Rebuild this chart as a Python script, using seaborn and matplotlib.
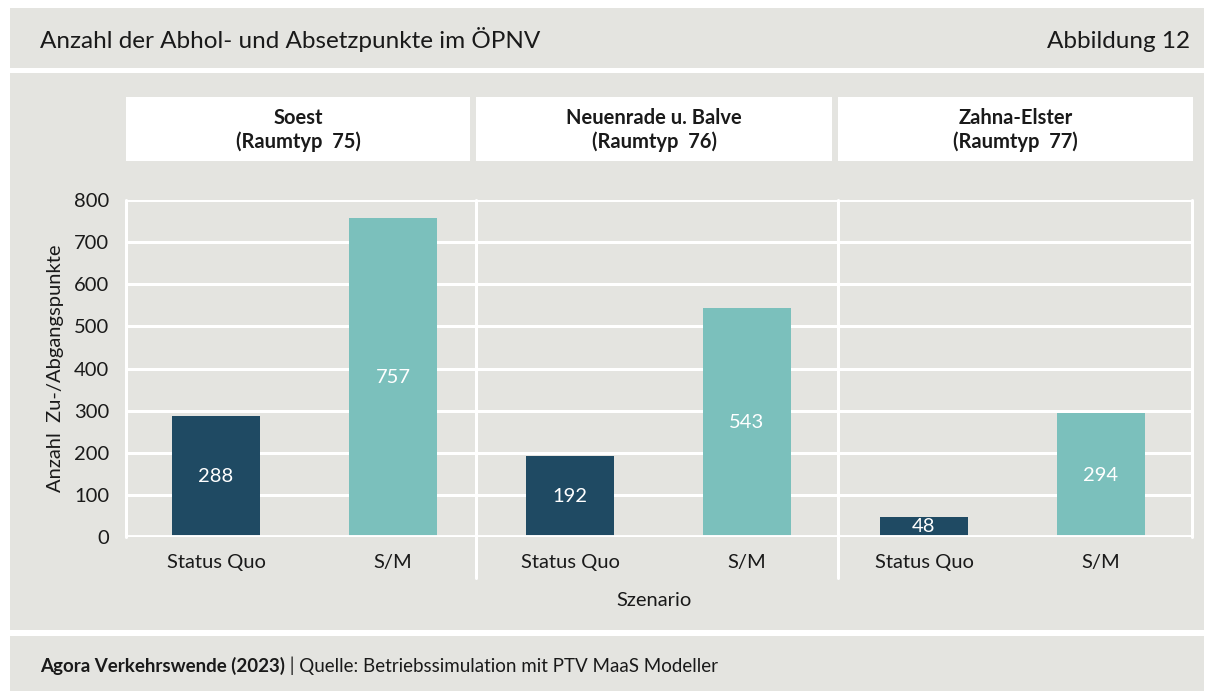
import matplotlib
matplotlib.use("Agg")
import matplotlib.pyplot as plt
import seaborn as sns
import pandas as pd
from matplotlib.patches import Rectangle
from matplotlib.lines import Line2D

regions = ["Soest\n(Raumtyp  75)", "Neuenrade u. Balve\n(Raumtyp  76)", "Zahna-Elster\n(Raumtyp  77)"]
scenarios = ["Status Quo", "S/M"]
status_quo = [288, 192, 48]
sm = [757, 543, 294]
yticks = [0, 100, 200, 300, 400, 500, 600, 700, 800]

title = "Anzahl der Abhol- und Absetzpunkte im ÖPNV"
fig_label = "Abbildung 12"
ylabel = "Anzahl  Zu-/Abgangspunkte"
xlabel = "Szenario"
source_bold = "Agora Verkehrswende (2023)"
source_rest = " | Quelle: Betriebssimulation mit PTV MaaS Modeller"

BG = "#e4e4e0"
DARK = "#1f4a63"
TEAL = "#7bc0bc"
TXT = "#1a1a1a"

sns.set_theme(style="white")
plt.rcParams["font.family"] = ["Lato", "DejaVu Sans"]

FS = 14.5

W, H = 1214, 691
fig = plt.figure(figsize=(W / 100, H / 100), dpi=100)
fig.patch.set_facecolor("white")

def fx(px):
    return px / W

def fy(py):
    return 1 - py / H

# background bands
for (x0, y0, x1, y1) in [(10, 8, 1204, 68), (10, 73, 1204, 630), (10, 636, 1204, 691)]:
    fig.patches.append(Rectangle((fx(x0), fy(y1)), fx(x1 - x0), (y1 - y0) / H,
                                 transform=fig.transFigure, facecolor=BG, edgecolor="none", zorder=-5))

fig.text(fx(40), fy(48), title, fontsize=17.5, color=TXT, va="baseline", ha="left")
fig.text(fx(1190), fy(48), fig_label, fontsize=17.5, color=TXT, va="baseline", ha="right")

t1 = fig.text(fx(40), fy(672), source_bold, fontsize=13.5, color=TXT, va="baseline", ha="left", fontweight="bold")
fig.canvas.draw()
bb = t1.get_window_extent()
fig.text(bb.x1 / W, fy(672), source_rest, fontsize=13.5, color=TXT, va="baseline", ha="left")

df = pd.DataFrame({
    "region": [r for r in regions for _ in scenarios],
    "scenario": scenarios * len(regions),
    "value": [v for pair in zip(status_quo, sm) for v in pair],
})

edges = [126, 476, 838, 1192]
centers0 = [216, 570, 924]
unit = 177
y_top, y_bot = 200, 537

axes = []
for i, reg in enumerate(regions):
    x0, x1 = edges[i], edges[i + 1]
    ax = fig.add_axes([fx(x0), fy(y_bot), fx(x1 - x0), (y_bot - y_top) / H])
    ax.set_facecolor(BG)
    sub = df[df["region"] == reg]
    sns.barplot(data=sub, x="scenario", y="value", hue="scenario", order=scenarios,
                hue_order=scenarios, palette=[DARK, TEAL], width=0.5, ax=ax,
                legend=False, saturation=1, errorbar=None, zorder=3, linewidth=0)
    ax.set_xlim((x0 - centers0[i]) / unit, (x1 - centers0[i]) / unit)
    ax.set_ylim(0, 800)
    ax.set_yticks(yticks)
    for y in yticks:
        ax.axhline(y, color="white", lw=2.2 if y else 2.8, zorder=1 if y else 4)
    for s in ax.spines.values():
        s.set_visible(False)
    ax.set_xlabel("")
    ax.set_ylabel("")
    ax.tick_params(axis="both", length=0, labelsize=FS, colors=TXT)
    ax.tick_params(axis="x", pad=12)
    if i == 0:
        ax.tick_params(axis="y", pad=12)
        ax.set_ylabel(ylabel, fontsize=FS, color=TXT, labelpad=7)
    else:
        ax.set_yticklabels([])
    for cont in ax.containers:
        ax.bar_label(cont, label_type="center", color="white", fontsize=FS)
    axes.append(ax)
    # strip header
    sx1 = x1 - 6 if i < 2 else 1193
    fig.patches.append(Rectangle((fx(x0), fy(161)), fx(sx1 - x0), (161 - 97) / H,
                                 transform=fig.transFigure, facecolor="white", edgecolor="none", zorder=1))
    fig.text(fx((x0 + sx1) / 2), fy(130), reg, fontsize=14.5, fontweight="bold", color=TXT,
             ha="center", va="center", linespacing=1.2)

# frame lines
fig.lines.append(Line2D([fx(126), fx(126)], [fy(537), fy(200)], transform=fig.transFigure, color="white", lw=2.2, zorder=5))
fig.lines.append(Line2D([fx(1192), fx(1192)], [fy(537), fy(200)], transform=fig.transFigure, color="white", lw=2.2, zorder=5))
for xs in edges[1:3]:
    fig.lines.append(Line2D([fx(xs), fx(xs)], [fy(578), fy(200)], transform=fig.transFigure, color="white", lw=2.2, zorder=5))

fig.text(fx(654), fy(600), xlabel, fontsize=FS, color=TXT, ha="center", va="center")

fig.savefig("out.png", dpi=100, facecolor=fig.get_facecolor())
